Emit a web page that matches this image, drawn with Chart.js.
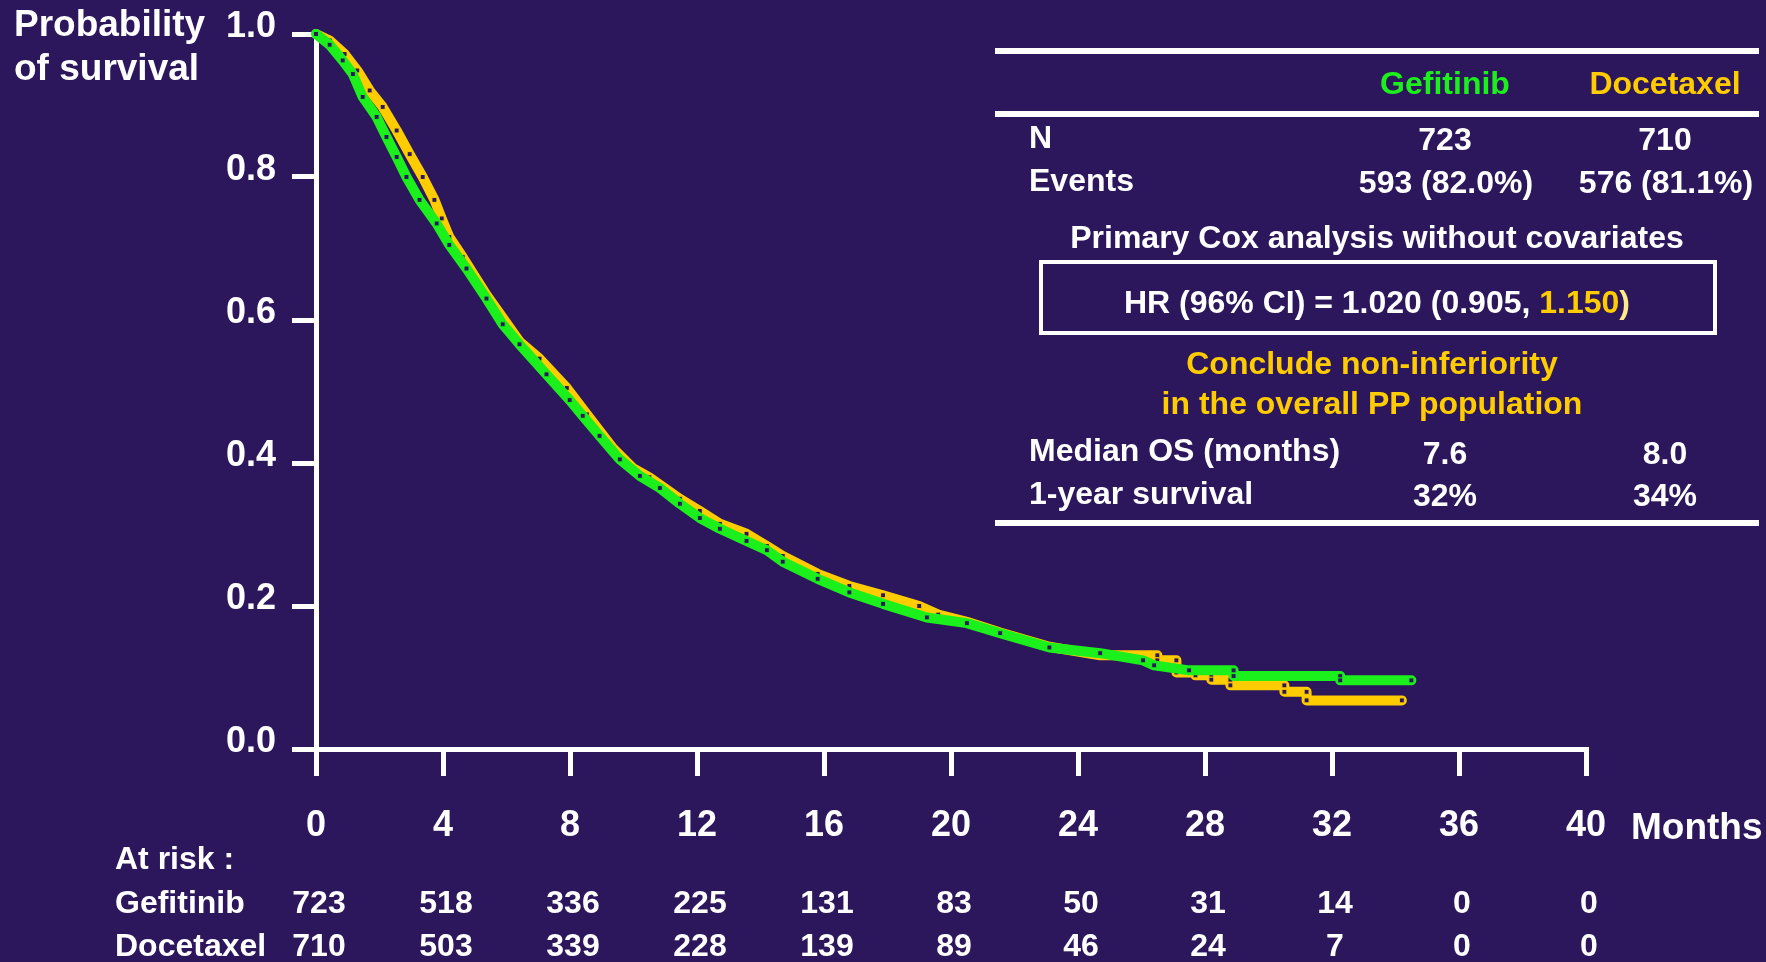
<!DOCTYPE html>
<html>
<head>
<meta charset="utf-8">
<script src="https://cdn.jsdelivr.net/npm/chart.js@4/dist/chart.umd.min.js"></script>
<style>
  html, body { margin: 0; padding: 0; background: #2c175c; }
  #wrap { position: relative; width: 1766px; height: 962px; background: #2c175c; overflow: hidden;
          font-family: "Liberation Sans", Arial, sans-serif; font-weight: bold; color: #fff; }
  #km { position: absolute; left: 0; top: 0; }
  .t { position: absolute; white-space: nowrap; line-height: 1; transform: translateY(-50%); }
  .c { transform: translate(-50%, -50%); }
  .big { font-size: 37px; }
  .mid { font-size: 32px; }
  .tab { font-size: 32px; }
  .rule { position: absolute; left: 995px; width: 764px; height: 6px; background: #fff; }
  .gef { color: #1cf01c; }
  .doc { color: #ffcc00; }
  #hrbox { position: absolute; left: 1039px; top: 260px; width: 670px; height: 67px; border: 4px solid #fff; }
</style>
</head>
<body>
<div id="wrap">
  <canvas id="km" width="1766" height="962"></canvas>

  <!-- titulo eje Y -->
  <div class="t big" style="left:14px; top:23px;">Probability</div>
  <div class="t big" style="left:14px; top:67px;">of survival</div>
  <div class="t big" style="left:1631px; top:826px;">Months</div>

  <!-- numeros en riesgo -->
  <div class="t mid" style="left:115px; top:858px;">At risk :</div>
  <div class="t mid" style="left:115px; top:902px;">Gefitinib</div>
  <div class="t mid" style="left:115px; top:945px;">Docetaxel</div>
  <div id="atrisk"></div>

  <!-- tabla resumen -->
  <div class="rule" style="top:48px;"></div>
  <div class="rule" style="top:111px;"></div>
  <div class="rule" style="top:520px;"></div>
  <div class="t c tab gef" style="left:1445px; top:83px;">Gefitinib</div>
  <div class="t c tab doc" style="left:1665px; top:83px;">Docetaxel</div>
  <div class="t tab" style="left:1029px; top:137px;">N</div>
  <div class="t c tab" style="left:1445px; top:139px;">723</div>
  <div class="t c tab" style="left:1665px; top:139px;">710</div>
  <div class="t tab" style="left:1029px; top:180px;">Events</div>
  <div class="t c tab" style="left:1446px; top:182px;">593 (82.0%)</div>
  <div class="t c tab" style="left:1666px; top:182px;">576 (81.1%)</div>
  <div class="t c tab" style="left:1377px; top:237px;">Primary Cox analysis without covariates</div>
  <div id="hrbox"></div>
  <div class="t c tab" style="left:1377px; top:302px;">HR (96% CI) = 1.020 (0.905, <span class="doc">1.150</span><span style="color:#ffe98a">)</span></div>
  <div class="t c tab doc" style="left:1372px; top:363px;">Conclude non-inferiority</div>
  <div class="t c tab doc" style="left:1372px; top:403px;">in the overall PP population</div>
  <div class="t tab" style="left:1029px; top:450px;">Median OS (months)</div>
  <div class="t c tab" style="left:1445px; top:453px;">7.6</div>
  <div class="t c tab" style="left:1665px; top:453px;">8.0</div>
  <div class="t tab" style="left:1029px; top:493px;">1-year survival</div>
  <div class="t c tab" style="left:1445px; top:495px;">32%</div>
  <div class="t c tab" style="left:1665px; top:495px;">34%</div>
</div>

<script>
// --- Datos ---
const riskMonths = [0, 4, 8, 12, 16, 20, 24, 28, 32, 36, 40];
const riskGefitinib = [723, 518, 336, 225, 131, 83, 50, 31, 14, 0, 0];
const riskDocetaxel = [710, 503, 339, 228, 139, 89, 46, 24, 7, 0, 0];

// curva Kaplan-Meier Gefitinib (meses, supervivencia)
const gefMonths = [0, 0.43, 0.84, 1.16, 1.47, 1.91, 2.22, 2.54, 2.85, 3.26, 3.8, 4.2, 4.74, 5.37, 5.88,
  6.41, 7.26, 7.99, 8.4, 8.93, 9.57, 10.2, 10.83, 11.46, 12.09, 12.72, 13.56, 14.2, 14.7, 15.8, 16.8,
  17.86, 19.24, 20.5, 21.55, 23.1, 24.7, 26.05, 26.4, 27.5, 28.9, 28.9, 32.26, 32.26, 34.5];
const gefSurv = [1.0, 0.985, 0.963, 0.944, 0.912, 0.884, 0.856, 0.828, 0.80, 0.768, 0.735, 0.705, 0.672, 0.63, 0.594,
  0.566, 0.524, 0.488, 0.466, 0.438, 0.405, 0.382, 0.365, 0.343, 0.323, 0.308, 0.291, 0.278, 0.262, 0.238, 0.219,
  0.203, 0.184, 0.176, 0.162, 0.142, 0.134, 0.124, 0.117, 0.110, 0.110, 0.102, 0.102, 0.096, 0.096];

// curva Kaplan-Meier Docetaxel
const docMonths = [0, 0.43, 0.9, 1.3, 1.69, 2.1, 2.54, 2.95, 3.36, 3.73, 3.96, 4.2, 4.62, 5.37, 6.41, 7.04,
  7.9, 8.53, 9.35, 9.98, 10.5, 11.46, 12.09, 12.72, 13.56, 14.2, 14.7, 15.8, 16.8, 17.86, 19.0, 19.6, 20.5,
  21.55, 23.1, 24.7, 26.5, 26.5, 27.1, 27.1, 27.7, 27.7, 28.2, 28.2, 28.8, 28.8, 30.5, 30.5, 31.2, 31.2, 34.2];
const docSurv = [1.0, 0.991, 0.972, 0.949, 0.921, 0.898, 0.865, 0.832, 0.80, 0.768, 0.742, 0.716, 0.688, 0.635, 0.57, 0.546,
  0.505, 0.468, 0.421, 0.393, 0.38, 0.35, 0.333, 0.315, 0.301, 0.284, 0.27, 0.245, 0.228, 0.215, 0.20, 0.188, 0.178,
  0.163, 0.143, 0.131, 0.131, 0.124, 0.124, 0.107, 0.107, 0.103, 0.103, 0.097, 0.097, 0.089, 0.089, 0.080, 0.080, 0.068, 0.068];

const BG = '#2c175c';
const GREEN = '#1cf01c';
const YELLOW = '#ffcc00';
const FONT = "'Liberation Sans', Arial, sans-serif";

const toPoints = (xs, ys) => xs.map((x, i) => ({ x, y: ys[i] }));

const kmDataset = (label, xs, ys, color) => ({
  label,
  data: toPoints(xs, ys),
  borderColor: color,
  borderWidth: 10,
  borderCapStyle: 'round',
  borderJoinStyle: 'round',
  tension: 0,
  pointStyle: 'rect',
  pointRadius: 3.5,
  pointBackgroundColor: BG,
  pointBorderColor: color,
  pointBorderWidth: 1,
  clip: 12
});

const chart = new Chart(document.getElementById('km'), {
  type: 'line',
  data: {
    datasets: [
      kmDataset('Gefitinib', gefMonths, gefSurv, GREEN),
      kmDataset('Docetaxel', docMonths, docSurv, YELLOW)
    ]
  },
  options: {
    responsive: false,
    animation: false,
    events: [],
    layout: { padding: { top: 31, right: 180, left: 0, bottom: 0 } },
    plugins: { legend: { display: false }, tooltip: { enabled: false } },
    scales: {
      x: {
        type: 'linear',
        min: 0, max: 40,
        afterFit: (s) => { s.height = 962 - 749; },
        border: { color: '#fff', width: 5 },
        grid: { drawOnChartArea: false, drawTicks: true, tickLength: 27, color: '#fff', lineWidth: 5 },
        ticks: {
          stepSize: 4, color: '#fff', padding: 28,
          font: { family: FONT, size: 36, weight: 'bold' }
        }
      },
      y: {
        min: 0, max: 1,
        afterFit: (s) => { s.width = 316; },
        border: { color: '#fff', width: 5 },
        grid: { drawOnChartArea: false, drawTicks: true, tickLength: 24, color: '#fff', lineWidth: 5 },
        ticks: {
          stepSize: 0.2, color: '#fff', padding: 16, labelOffset: -7,
          callback: (v) => v.toFixed(1),
          font: { family: FONT, size: 36, weight: 'bold', lineHeight: 1 }
        }
      }
    }
  }
});

// --- Numeros en riesgo alineados con la escala X ---
const atRisk = document.getElementById('atrisk');
riskMonths.forEach((m, i) => {
  const px = chart.scales.x.getPixelForValue(m) + 3;
  [[riskGefitinib[i], 902], [riskDocetaxel[i], 945]].forEach(([val, top]) => {
    const d = document.createElement('div');
    d.className = 't c mid';
    d.style.left = px + 'px';
    d.style.top = top + 'px';
    d.textContent = val;
    atRisk.appendChild(d);
  });
});
</script>
</body>
</html>
